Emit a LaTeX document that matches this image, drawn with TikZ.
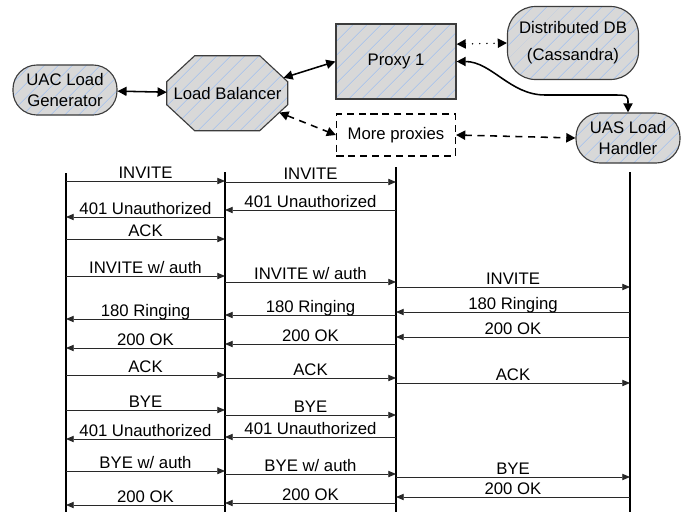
\documentclass[tikz,border=0pt]{standalone}
\usepackage{fontspec}
\setmainfont{Liberation Sans}
\usepackage{tikz}
\usetikzlibrary{arrows.meta, patterns.meta, backgrounds}
\definecolor{nodegray}{RGB}{216,216,216}
\definecolor{nodeedge}{RGB}{60,60,60}
\definecolor{hatchblue}{RGB}{176,198,232}
\definecolor{msgline}{RGB}{40,40,40}

\begin{document}
\begin{tikzpicture}[
  x=0.025cm, y=-0.025cm,
  every node/.style={font=\fontsize{11.9}{14.9}\selectfont, align=center},
  hatched/.style={draw=nodeedge, line width=0.8pt, preaction={fill=nodegray},
                  pattern={Lines[angle=45, distance=0.26cm, line width=0.6pt]},
                  pattern color=hatchblue},
  peer/.style={hatched, rectangle, rounded corners=0.6cm, inner sep=1pt,
               minimum width=2.6cm, minimum height=1.25cm},
  dbnode/.style={hatched, rectangle, rounded corners=0.7cm, inner sep=1pt,
                 minimum width=3.275cm, minimum height=1.825cm},
  balancer/.style={rectangle, inner sep=1pt,
                   minimum width=3.025cm, minimum height=1.875cm},
  proxybox/.style={hatched, rectangle, minimum width=3cm, minimum height=1.875cm},
  morebox/.style={draw=black, line width=0.8pt, dash pattern=on 5pt off 3.5pt,
                  rectangle, minimum width=2.975cm, minimum height=1.05cm},
  link/.style={arrows={Triangle[length=6.5pt,width=6.5pt]-Triangle[length=6.5pt,width=6.5pt]},
               line width=1.1pt},
  dashlink/.style={link, dash pattern=on 5pt off 4pt},
  dotlink/.style={link, line cap=round, dash pattern=on 0.1pt off 5pt},
  lifeline/.style={line width=0.9pt},
  seqmsg/.style={-{Triangle[length=5.5pt,width=4.5pt]}, line width=0.6pt, draw=msgline},
  msglabel/.style={anchor=base, yshift=0.065cm, inner sep=0pt},
]
\useasboundingbox (0,0) rectangle (688,514);

% Components
\node[peer]     (uac)   at (65,90)    {UAC Load\\Generator};
\node[balancer] (lb)    at (227.5,93.5) {Load Balancer};
\node[proxybox] (proxy) at (396,61.5) {Proxy 1};
\node[dbnode]   (db)    at (573,43)   {Distributed DB\\[0.15cm](Cassandra)};
\node[morebox]  (more)  at (396,135)  {More proxies};
\node[peer]     (uas)   at (628,138)  {UAS Load\\Handler};

% octagon behind the load balancer text
\begin{scope}[on background layer]
  \path[hatched] (lb.north west) ++(28,0) -- ++(65,0)
    -- coordinate[pos=0.85] (lb-ne) ++(28,26) -- ++(0,23)
    -- coordinate[pos=0.3] (lb-se) ++(-28,26) -- ++(-65,0)
    -- ++(-28,-26) -- ++(0,-23) -- cycle;
\end{scope}

% Links between components
\draw[link] (uac) -- (lb);
\draw[link] (lb-ne) -- (proxy.west);
\draw[dashlink] (lb-se) -- (more.west);
\draw[dotlink] (proxy.16) -- (db.west);
\draw[dashlink] (more.east) -- (uas.west);
\coordinate (dip)  at (545,95);
\coordinate (turn) at (612,95);
\draw[link] (proxy.east) .. controls +(35,0) and +(-35,0) .. (dip) -- (turn)
  .. controls (628,95) .. (uas.north);

% Lifelines
\coordinate (l1) at (66,173);
\coordinate (l2) at (225,172);
\coordinate (l3) at (396,167);
\coordinate (l4) at (630,172);
\foreach \l in {l1,l2,l3,l4}
  \draw[lifeline] (\l) -- (\l |- 0,512);

% Messages
\foreach \from/\to/\y/\lbl in {
  l1/l2/181/INVITE, l2/l1/217/401 Unauthorized, l1/l2/239/ACK,
  l1/l2/276/{INVITE w/ auth}, l2/l1/319/180 Ringing, l2/l1/348/200 OK,
  l1/l2/375/ACK, l1/l2/410/BYE, l2/l1/439/401 Unauthorized,
  l1/l2/471/{BYE w/ auth}, l2/l1/505/200 OK,
  l2/l3/182/INVITE, l3/l2/210/401 Unauthorized, l2/l3/282/{INVITE w/ auth},
  l3/l2/315/180 Ringing, l3/l2/344/200 OK, l2/l3/378/ACK, l2/l3/415/BYE,
  l3/l2/437/401 Unauthorized, l2/l3/474/{BYE w/ auth}, l3/l2/503/200 OK,
  l3/l4/287/INVITE, l4/l3/312/180 Ringing, l4/l3/337/200 OK,
  l3/l4/383/ACK, l3/l4/477/BYE, l4/l3/497/200 OK}
  \draw[seqmsg] (\from |- 0,\y) -- node[msglabel] {\lbl} (\to |- 0,\y);

\end{tikzpicture}
\end{document}
